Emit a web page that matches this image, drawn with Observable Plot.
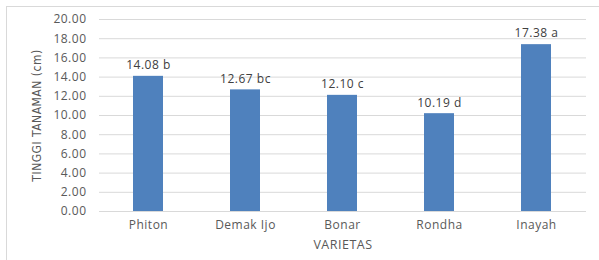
<!DOCTYPE html>
<html>
<head>
<meta charset="utf-8">
<script src="https://cdn.jsdelivr.net/npm/d3@7"></script>
<script src="https://cdn.jsdelivr.net/npm/@observablehq/plot@0.6"></script>
<style>
  html, body { margin: 0; padding: 0; background: #fff; }
  #wrap { position: relative; width: 599px; height: 260px; overflow: hidden; }
  #frame { position: absolute; left: 6px; top: 6px; width: 700px; height: 400px;
           border-left: 1px solid #d9d9d9; border-top: 1px solid #d9d9d9; pointer-events: none; }
  svg { display: block; }
  svg text { letter-spacing: 0.5px; }
</style>
</head>
<body>
<div id="wrap"><div id="frame"></div></div>
<script>
const varietas = ["Phiton", "Demak Ijo", "Bonar", "Rondha", "Inayah"];
const tinggi = [14.08, 12.67, 12.10, 10.19, 17.38];
const notasi = ["b", "bc", "c", "d", "a"];
const yTicks = [0, 2, 4, 6, 8, 10, 12, 14, 16, 18, 20];

const data = varietas.map((v, i) => ({v, t: tinggi[i], label: tinggi[i].toFixed(2) + " " + notasi[i]}));

const font = "'Liberation Sans Narrow', 'DejaVu Sans Condensed', sans-serif";
const tickFont = "'Open Sans', 'Noto Sans', sans-serif";

const chart = Plot.plot({
  width: 599,
  height: 260,
  marginLeft: 99,
  marginRight: 13,
  marginTop: 19,
  marginBottom: 49,
  style: {fontFamily: tickFont, fontSize: "12px", color: "#595959", background: "transparent"},
  x: {domain: varietas, paddingInner: 0.69, paddingOuter: 0.345, label: null},
  y: {domain: [0, 20], label: null},
  marks: [
    Plot.ruleY(yTicks, {stroke: "#d9d9d9", strokeWidth: 1}),
    Plot.barY(data, {x: "v", y: "t", fill: "#4f81bd"}),
    Plot.text(data, {x: "v", y: "t", text: "label", dy: -11, fill: "#404040", fontSize: 12}),
    Plot.axisY({ticks: yTicks, tickSize: 0, tickPadding: 13, tickFormat: d => d.toFixed(2), fill: "#595959", label: null}),
    Plot.axisX({tickSize: 0, tickPadding: 9, fill: "#595959", label: null}),
    Plot.text(["VARIETAS"], {frameAnchor: "bottom", dy: 37, fill: "#595959", fontSize: 12.5}),
    Plot.text(["TINGGI TANAMAN (cm)"], {frameAnchor: "left", dx: -62, dy: 0, rotate: -90, textAnchor: "middle", fill: "#595959", fontSize: 12, fontFamily: font})
  ]
});
document.getElementById("wrap").appendChild(chart);
</script>
</body>
</html>
